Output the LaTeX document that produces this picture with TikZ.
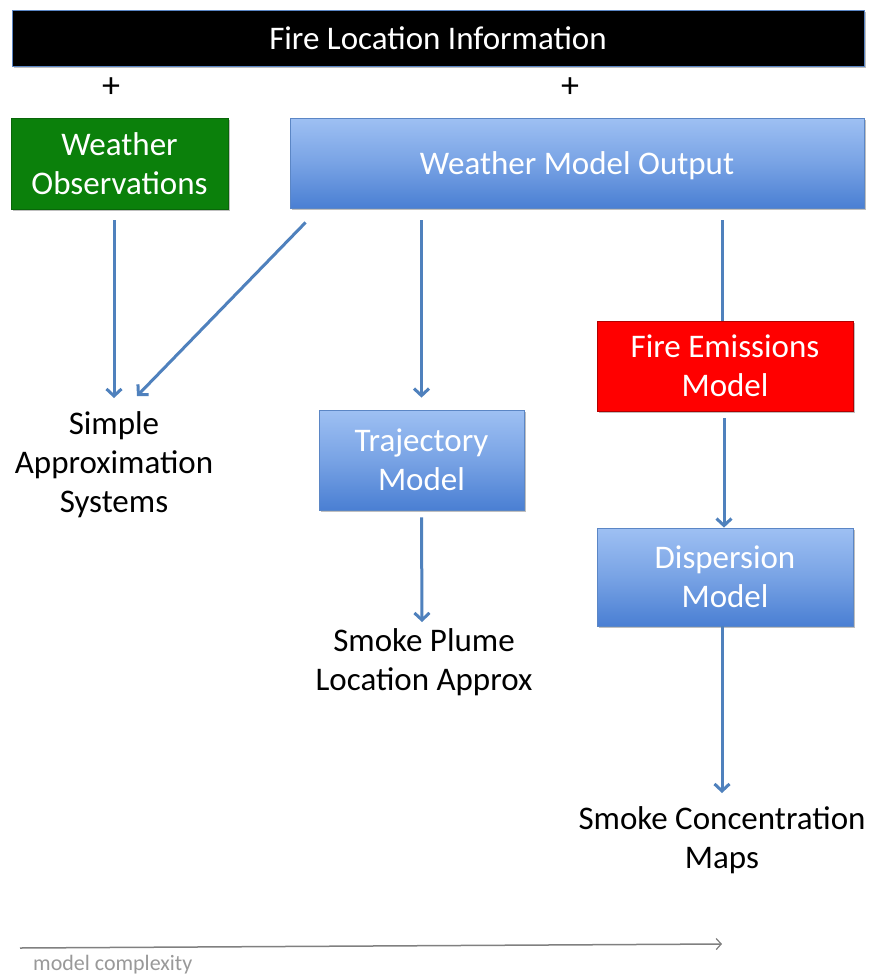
\documentclass[tikz,border=0pt]{standalone}
\usepackage{fontspec}
\setmainfont{Carlito}
\usetikzlibrary{arrows.meta,calc,shadows}
\definecolor{arrblue}{HTML}{4F81BD}
\definecolor{boxtop}{HTML}{9EC0F3}
\definecolor{boxbot}{HTML}{4A7FD3}
\definecolor{boxline}{HTML}{5B86C5}
\definecolor{obsgreen}{HTML}{0B800B}
\tikzset{
  bigfont/.style={font=\fontsize{33}{39}\selectfont},
  box/.style={draw=boxline, line width=0.8pt, text=white, align=center, bigfont,
    drop shadow={shadow xshift=1.5pt, shadow yshift=-2pt, fill=black, opacity=0.25}},
  bluebox/.style={box, top color=boxtop, bottom color=boxbot, middle color=boxtop!55!boxbot},
  label/.style={align=center, bigfont, text=black},
  flow/.style={draw=arrblue, line width=3pt, -{Straight Barb[length=7pt,width=15pt,line width=3pt]}},
  flowplain/.style={draw=arrblue, line width=3pt},
}
\begin{document}
\begin{tikzpicture}[x=1pt,y=-1pt]
\useasboundingbox (0,0) rectangle (870,977);
\fill[white] (0,0) rectangle (870,977);

% top bar
\node[box, fill=black, minimum width=852pt, minimum height=56pt, inner sep=0pt] (top) at (438,38) {Fire Location Information};
\node[label, inner sep=0pt, font=\fontsize{36}{39}\selectfont] (plus1) at (111,88) {+};
\node[label, inner sep=0pt, font=\fontsize{36}{39}\selectfont] (plus2) at (570,88) {+};

% boxes
\node[box, fill=obsgreen, draw=obsgreen!80!black, minimum width=217pt, minimum height=91pt, inner sep=0pt] (wo) at (119.5,163.5) {Weather\\Observations};
\node[bluebox, minimum width=574pt, minimum height=90pt, inner sep=0pt, text depth=0pt] (wmo) at (577,163) {Weather Model Output};
\node[bluebox, minimum width=205pt, minimum height=100pt, inner sep=0pt] (traj) at (421.5,460) {Trajectory\\Model};
\node[box, fill=red, draw=red!70!black, minimum width=256pt, minimum height=90pt, inner sep=0pt] (fem) at (725,366) {Fire Emissions\\Model};
\node[bluebox, minimum width=256pt, minimum height=98pt, inner sep=0pt] (disp) at (725,577) {Dispersion\\Model};

% text outputs
\node[label, inner sep=0pt] (simple) at (114,465) {Simple\\Approximation\\Systems};
\node[label, inner sep=0pt] (plume) at (424,662) {Smoke Plume\\Location Approx};
\node[label, inner sep=0pt] (conc) at (722,840) {Smoke Concentration\\Maps};

% connectors
\draw[flow] ($(wo.south -| simple.center)+(0,11)$) -- ($(simple.center)+(0,-67)$);
\draw[flow] ($(wmo.south west)+(16,14)$) -- ($(simple.center)+(23,-69)$);
\draw[flow] ($(wmo.south -| traj.north)+(0,12)$) -- ($(traj.north)+(0,-12)$);
\draw[flowplain] ($(wmo.south -| fem.north)+(-3,12)$) -- ($(fem.north)+(-3,0)$);
\draw[flow] ($(fem.south)+(-1,7)$) -- ($(disp.north)+(-1,0)$);
\draw[flow] ($(traj.south)+(0,7)$) -- ($(plume.center)+(-2,-40)$);
\draw[flow] ($(disp.south)+(-3,0)$) -- ($(conc.center)+(0,-47)$);

% complexity axis
\coordinate (axstart) at (20,948);
\coordinate (axend) at (722,944);
\draw[draw=black!50, line width=1.5pt, -{Straight Barb[length=5pt,width=11pt,line width=1.2pt]}] (axstart) -- (axend);
\node[anchor=west, inner sep=0pt, text=black!40, font=\fontsize{22}{24}\selectfont] (mc) at (33,965) {model complexity};
\end{tikzpicture}
\end{document}
